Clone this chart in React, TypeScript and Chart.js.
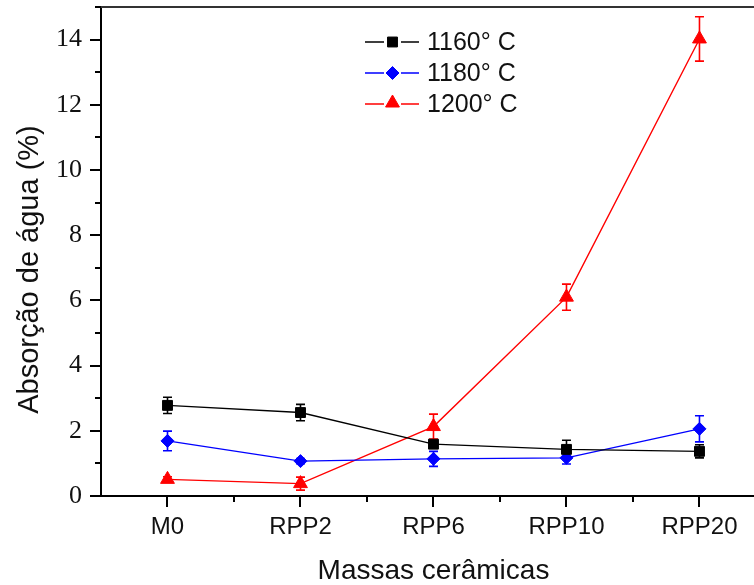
import React, { useEffect, useRef } from 'react';
import { Chart, registerables } from 'chart.js';

Chart.register(...registerables);

const categories = ['M0', 'RPP2', 'RPP6', 'RPP10', 'RPP20'];
const seriesLabels = ['1160° C', '1180° C', '1200° C'];
const series1160 = [2.78, 2.56, 1.59, 1.43, 1.37];
const err1160 = [0.25, 0.25, 0.1, 0.28, 0.2];
const series1180 = [1.69, 1.07, 1.14, 1.17, 2.06];
const err1180 = [0.3, 0.08, 0.23, 0.19, 0.4];
const series1200 = [0.51, 0.38, 2.13, 6.1, 14.02];
const err1200 = [0.08, 0.2, 0.38, 0.4, 0.68];
const yTickValues = [0, 2, 4, 6, 8, 10, 12, 14];
const xTitle = 'Massas cerâmicas';
const yTitle = 'Absorção de água (%)';

const colors = ['#000000', '#0000ff', '#ff0000'];
const pointStyles = ['rect', 'rectRot', 'triangle'];
const pointRadii = [7, 6.5, 8];
const allSeries = [series1160, series1180, series1200];
const allErrors = [err1160, err1180, err1200];

const SANS = '"Liberation Sans", Arial, sans-serif';
const SERIF = '"Liberation Serif", "Times New Roman", serif';

function drawMarker(ctx: CanvasRenderingContext2D, style: string, x: number, y: number, r: number, color: string) {
  ctx.save();
  ctx.fillStyle = color;
  ctx.strokeStyle = color;
  ctx.lineWidth = 1;
  ctx.beginPath();
  if (style === 'rect') {
    const s = Math.SQRT1_2 * r;
    ctx.rect(x - s, y - s, 2 * s, 2 * s);
  } else if (style === 'rectRot') {
    ctx.moveTo(x - r, y);
    ctx.lineTo(x, y - r);
    ctx.lineTo(x + r, y);
    ctx.lineTo(x, y + r);
    ctx.closePath();
  } else {
    const h = r * Math.sqrt(3) / 2;
    ctx.moveTo(x, y - r);
    ctx.lineTo(x + h, y + r / 2);
    ctx.lineTo(x - h, y + r / 2);
    ctx.closePath();
  }
  ctx.fill();
  ctx.stroke();
  ctx.restore();
}

const errorBarPlugin = {
  id: 'errorBars',
  beforeDatasetsDraw(chart: any) {
    const ctx = chart.ctx;
    const xs = chart.scales.x;
    const ys = chart.scales.y;
    ctx.save();
    allSeries.forEach((vals, si) => {
      ctx.strokeStyle = colors[si];
      ctx.lineWidth = 1.6;
      vals.forEach((v, i) => {
        const e = allErrors[si][i];
        const px = xs.getPixelForValue(i);
        const yt = ys.getPixelForValue(v + e);
        const yb = ys.getPixelForValue(v - e);
        ctx.beginPath();
        ctx.moveTo(px, yt);
        ctx.lineTo(px, yb);
        ctx.moveTo(px - 4.5, yt);
        ctx.lineTo(px + 4.5, yt);
        ctx.moveTo(px - 4.5, yb);
        ctx.lineTo(px + 4.5, yb);
        ctx.stroke();
      });
    });
    ctx.restore();
  },
};

const axisDecorPlugin = {
  id: 'axisDecor',
  afterDraw(chart: any) {
    const ctx = chart.ctx;
    const xs = chart.scales.x;
    const ys = chart.scales.y;
    const area = chart.chartArea;
    ctx.save();
    ctx.lineWidth = 2;
    ctx.strokeStyle = '#333';
    ctx.beginPath();
    ctx.moveTo(area.left, area.top);
    ctx.lineTo(area.right, area.top);
    ctx.stroke();
    ctx.strokeStyle = '#000';
    for (let v = 0; v <= 15; v += 1) {
      const py = Math.round(ys.getPixelForValue(v));
      const len = v % 2 === 0 ? 11 : 6;
      ctx.beginPath();
      ctx.moveTo(area.left, py);
      ctx.lineTo(area.left - len, py);
      ctx.stroke();
    }
    for (let v = 0; v <= 4; v += 0.5) {
      const px = Math.round(xs.getPixelForValue(v));
      const len = Number.isInteger(v) ? 11 : 6;
      ctx.beginPath();
      ctx.moveTo(px, area.bottom);
      ctx.lineTo(px, area.bottom + len);
      ctx.stroke();
    }
    // axis titles
    ctx.fillStyle = '#111';
    ctx.textAlign = 'center';
    ctx.textBaseline = 'middle';
    ctx.font = `28px ${SANS}`;
    ctx.fillText(xTitle, 433.5, 571);
    ctx.translate(29.5, 269.5);
    ctx.rotate(-Math.PI / 2);
    ctx.font = `29px ${SANS}`;
    ctx.fillText(yTitle, 0, 0);
    ctx.restore();
  },
};

const legendPlugin = {
  id: 'customLegend',
  afterDraw(chart: any) {
    const ctx = chart.ctx;
    const rows = [42, 73, 104];
    ctx.save();
    seriesLabels.forEach((lab, i) => {
      const y = rows[i];
      ctx.strokeStyle = colors[i];
      ctx.lineWidth = 1.5;
      ctx.beginPath();
      ctx.moveTo(365, y);
      ctx.lineTo(384, y);
      ctx.moveTo(401, y);
      ctx.lineTo(419, y);
      ctx.stroke();
      drawMarker(ctx, pointStyles[i], 392.5, i === 2 ? y - 1 : y, pointRadii[i], colors[i]);
      ctx.fillStyle = '#111';
      ctx.font = `25px ${SANS}`;
      ctx.textAlign = 'left';
      ctx.textBaseline = 'middle';
      ctx.fillText(lab, 427, y + 1);
    });
    ctx.restore();
  },
};

function zeroPadding(s: any) {
  s.paddingTop = 0;
  s.paddingBottom = 0;
  s.paddingLeft = 0;
  s.paddingRight = 0;
}

export default function App() {
  const canvasRef = useRef<HTMLCanvasElement | null>(null);

  useEffect(() => {
    const canvas = canvasRef.current;
    if (!canvas) return;
    const chart = new Chart(canvas, {
      type: 'line',
      data: {
        datasets: allSeries.map((vals, si) => ({
          label: seriesLabels[si],
          data: vals.map((v, i) => ({ x: i, y: v })),
          borderColor: colors[si],
          backgroundColor: colors[si],
          borderWidth: 1.4,
          pointStyle: pointStyles[si] as any,
          pointRadius: pointRadii[si],
          pointBorderWidth: 1,
          pointBackgroundColor: colors[si],
          pointBorderColor: colors[si],
          tension: 0,
        })),
      },
      options: {
        animation: false,
        responsive: false,
        maintainAspectRatio: false,
        layout: { autoPadding: false, padding: { top: 7, left: 0, right: 0, bottom: 0 } },
        plugins: { legend: { display: false }, tooltip: { enabled: false } },
        scales: {
          x: {
            type: 'linear',
            min: -0.5,
            max: 4.41,
            afterBuildTicks: (s: any) => {
              s.ticks = categories.map((_, i) => ({ value: i }));
            },
            afterFit: (s: any) => {
              s.height = 89;
              zeroPadding(s);
            },
            grid: { display: false, drawTicks: false },
            border: { display: true, color: '#000', width: 2 },
            ticks: {
              callback: (v: any) => categories[v] ?? '',
              font: { family: SANS, size: 24 },
              color: '#111',
              padding: 17,
              maxRotation: 0,
              autoSkip: false,
            },
          },
          y: {
            type: 'linear',
            min: 0,
            max: 15,
            afterBuildTicks: (s: any) => {
              s.ticks = yTickValues.map((v) => ({ value: v }));
            },
            afterFit: (s: any) => {
              s.width = 101;
              zeroPadding(s);
            },
            grid: { display: false, drawTicks: false },
            border: { display: true, color: '#000', width: 2 },
            ticks: {
              font: { family: SERIF, size: 26 },
              color: '#111',
              padding: 19,
            },
          },
        },
      },
      plugins: [errorBarPlugin, axisDecorPlugin, legendPlugin],
    });
    return () => chart.destroy();
  }, []);

  return (
    <div style={{ position: 'absolute', left: 0, top: 0, width: 754, height: 585, background: '#fff' }}>
      <canvas ref={canvasRef} width={754} height={585} style={{ display: 'block' }} />
    </div>
  );
}
